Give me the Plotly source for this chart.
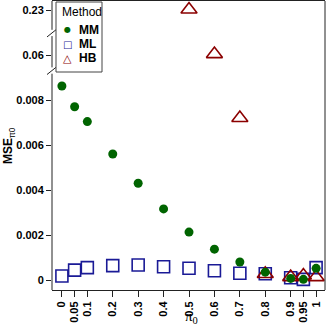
import plotly.graph_objects as go

# ---- data ----
pi0 = [0, 0.05, 0.1, 0.2, 0.3, 0.4, 0.5, 0.6, 0.7, 0.8, 0.9, 0.95, 1]
x_ticklabels = ["0", "0.05", "0.1", "0.2", "0.3", "0.4", "0.5", "0.6", "0.7", "0.8", "0.9", "0.95", "1"]
mse_mm = [0.00862, 0.0077, 0.00704, 0.0056, 0.0043, 0.00316, 0.00213, 0.00137, 0.0008, 0.00035, 0.00007, 0.00003, 0.00052]
mse_ml = [0.00018, 0.00044, 0.00055, 0.00064, 0.00067, 0.00059, 0.00052, 0.00041, 0.0003, 0.00028, 0.0001, 0.00003, 0.00055]
pi0_hb = [0.5, 0.6, 0.7, 0.8, 0.9, 0.95, 1]
mse_hb = [0.2302, 0.0604, 0.0072, 0.00027, 0.00013, 0.0002, 0.00013]
y_tickvalues = [0, 0.002, 0.004, 0.006, 0.008, 0.06, 0.23]
y_ticklabels = ["0", "0.002", "0.004", "0.006", "0.008", "0.06", "0.23"]
methods = ["MM", "ML", "HB"]


# broken-axis display transform
def disp(v):
    if v < 0.0095:
        return v * 1000
    if v < 0.15:
        return 10 + (v - 0.06) * 100
    return 12 + (v - 0.23) * 100


FONT = "Liberation Sans, Arial, sans-serif"
GREEN = "#006400"
BLUE = "#1a1a96"
RED = "#8B0000"
AX = "#222222"

fig = go.Figure()
fig.add_trace(go.Scatter(
    x=pi0, y=[disp(v) for v in mse_ml], mode="markers", name="ML", showlegend=False,
    marker=dict(symbol="square-open", size=12, color=BLUE, line=dict(width=1.6))))
fig.add_trace(go.Scatter(
    x=pi0_hb, y=[disp(v) for v in mse_hb], mode="markers", name="HB", showlegend=False,
    marker=dict(symbol="triangle-up-open", size=14, color=RED, line=dict(width=1.6))))
fig.add_trace(go.Scatter(
    x=pi0, y=[disp(v) for v in mse_mm], mode="markers", name="MM", showlegend=False,
    marker=dict(symbol="circle", size=9, color=GREEN)))

fig.update_layout(
    width=327, height=327,
    margin=dict(l=52, r=2, t=1, b=37),
    plot_bgcolor="white", paper_bgcolor="white",
    font=dict(family=FONT, size=11, color="black"),
    showlegend=False,
    xaxis=dict(
        range=[-0.039, 1.035], tickmode="array", tickvals=pi0, ticktext=x_ticklabels,
        tickangle=-90, ticks="outside", ticklen=6, tickcolor=AX,
        tickfont=dict(family=FONT, size=11, weight="bold"),
        showgrid=False, zeroline=False, showline=True, linecolor=AX, linewidth=1, mirror=True,
    ),
    yaxis=dict(
        range=[-0.444, 12.4], tickmode="array",
        tickvals=[disp(v) for v in y_tickvalues], ticktext=y_ticklabels,
        ticks="outside", ticklen=5, tickcolor=AX,
        tickfont=dict(family=FONT, size=11, weight="bold"),
        showgrid=False, zeroline=False, showline=False,
    ),
)

# right frame line
fig.add_shape(type="line", xref="paper", yref="paper", x0=1, x1=1, y0=0, y1=1,
              line=dict(color=AX, width=1))
# left axis line with breaks
breaks = [9.31, 10.98]
segs = [(-0.444, breaks[0] - 0.14), (breaks[0] + 0.14, breaks[1] - 0.14), (breaks[1] + 0.14, 12.4)]
for a, b in segs:
    fig.add_shape(type="line", xref="paper", yref="y", x0=0, x1=0, y0=a, y1=b,
                  line=dict(color=AX, width=1))
for bk in breaks:
    fig.add_shape(type="line", xref="paper", yref="y", xsizemode="pixel", xanchor=0,
                  ysizemode="pixel", yanchor=bk,
                  x0=-5, x1=5, y0=-4, y1=4, line=dict(color=AX, width=1))

# legend (drawn manually, compact like the reference)
W, H = 273.0, 289.0
def px(x):
    return (x - 52) / W
def py(y):
    return 1 - (y - 1) / H

fig.add_shape(type="rect", xref="paper", yref="paper", x0=px(56), x1=px(102), y0=py(72), y1=py(2),
              line=dict(color="#444444", width=1), fillcolor="white", layer="above")
fig.add_annotation(xref="paper", yref="paper", x=px(60), y=py(12), xanchor="left", yanchor="middle",
                   text="Method", showarrow=False, font=dict(family=FONT, size=12))
glyphs = ["●", "□", "△"]
gcolors = [GREEN, BLUE, RED]
gsizes = [8, 10, 11]
for i, (m, g, c, s) in enumerate(zip(methods, glyphs, gcolors, gsizes)):
    yy = 30 + 14 * i
    fig.add_annotation(xref="paper", yref="paper", x=px(67), y=py(yy), xanchor="center", yanchor="middle",
                       text=g, showarrow=False, font=dict(family="DejaVu Sans", size=s, color=c))
    fig.add_annotation(xref="paper", yref="paper", x=px(77), y=py(yy), xanchor="left", yanchor="middle",
                       text="<b>%s</b>" % m, showarrow=False, font=dict(family=FONT, size=12))

# axis titles
fig.add_annotation(xref="paper", yref="paper", x=px(191), y=py(316.5), xanchor="center", yanchor="middle",
                   text="π<sub>0</sub>", showarrow=False,
                   font=dict(family="Liberation Serif, Times New Roman, serif", size=15))
fig.add_annotation(xref="paper", yref="paper", x=px(9), y=py(146), xanchor="center", yanchor="middle",
                   text="<b>MSE</b><sub>π0</sub>", textangle=-90, showarrow=False,
                   font=dict(family=FONT, size=12))

fig.write_html("out.html", config={"displayModeBar": False},
               post_script="document.body.style.margin='0px';")
